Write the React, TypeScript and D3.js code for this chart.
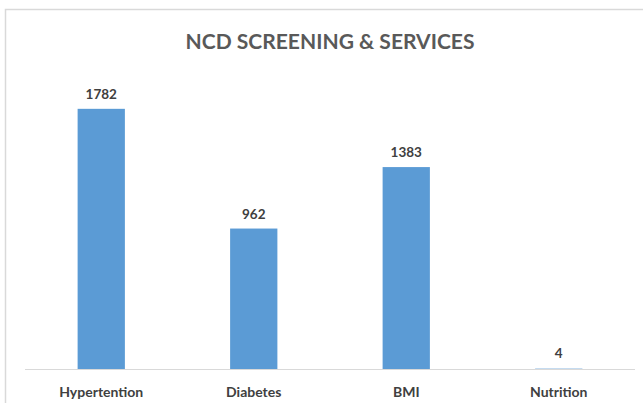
import React from "react";
import * as d3 from "d3";

const categories = ["Hypertention", "Diabetes", "BMI", "Nutrition"];
const values = [1782, 962, 1383, 4];
const title = "NCD SCREENING & SERVICES";

export default function App() {
  const W = 643, H = 403;
  const x = d3.scaleBand<string>().domain(categories).range([25, 635]).paddingInner(0.69).paddingOuter(0.345);
  const y = d3.scaleLinear().domain([0, 2000]).range([369, 77]);
  const font = "Lato, 'Open Sans', sans-serif";
  return (
    <svg width={W} height={H} style={{ position: "absolute", left: 0, top: 0, background: "#fff" }}>
      <rect x={5.5} y={9.5} width={700} height={500} fill="#fff" stroke="#d9d9d9" strokeWidth={1.5} />
      <text x={330} y={49} textAnchor="middle" fontFamily={font} fontWeight="bold" fontSize={21} fill="#595959" textLength={289} lengthAdjust="spacingAndGlyphs">{title}</text>
      {categories.map((c, i) => {
        const bx = x(c)!;
        const by = y(values[i]);
        const h = y(0) - by;
        return (
          <g key={c}>
            <rect x={bx} y={by} width={x.bandwidth()} height={Math.max(h, 1.5)} fill="#5B9BD5" opacity={values[i] < 10 ? 0.6 : 1} />
            <text x={bx + x.bandwidth() / 2} y={by - 10} textAnchor="middle" fontFamily={font} fontWeight="bold" fontSize={13.5} fill="#404040">{values[i]}</text>
          </g>
        );
      })}
      <line x1={25} x2={635} y1={369.5} y2={369.5} stroke="#d9d9d9" strokeWidth={1} />
      {categories.map((c) => (
        <text key={c} x={x(c)! + x.bandwidth() / 2} y={397} textAnchor="middle" fontFamily={font} fontWeight="bold" fontSize={14} fill="#404040">{c}</text>
      ))}
    </svg>
  );
}
